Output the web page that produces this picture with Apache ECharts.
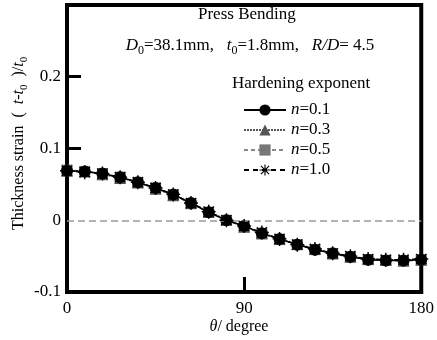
<!DOCTYPE html>
<html>
<head>
<meta charset="utf-8">
<script src="https://cdn.jsdelivr.net/npm/echarts@6/dist/echarts.min.js"></script>
<style>
    html, body { margin: 0; padding: 0; background: #fff; }
    #main { width: 437px; height: 340px; }
</style>
</head>
<body>
<div id="main"></div>
<script>
// data
let xData = [0, 9, 18, 27, 36, 45, 54, 63, 72, 81, 90, 99, 108, 117, 126, 135, 144, 153, 162, 171, 180]
let n01 = [0.069, 0.068, 0.065, 0.060, 0.053, 0.045, 0.036, 0.024, 0.011, 0.000, -0.008, -0.018, -0.026, -0.034, -0.041, -0.046, -0.051, -0.055, -0.056, -0.056, -0.055]
let n03 = [0.069, 0.068, 0.064, 0.059, 0.053, 0.044, 0.035, 0.024, 0.012, 0.001, -0.009, -0.018, -0.026, -0.033, -0.040, -0.046, -0.051, -0.054, -0.055, -0.056, -0.055]
let n05 = [0.070, 0.068, 0.065, 0.060, 0.052, 0.045, 0.035, 0.023, 0.011, 0.000, -0.009, -0.019, -0.027, -0.034, -0.041, -0.047, -0.051, -0.055, -0.056, -0.057, -0.055]
let n10 = [0.069, 0.067, 0.065, 0.060, 0.053, 0.045, 0.036, 0.024, 0.012, 0.000, -0.008, -0.017, -0.026, -0.034, -0.040, -0.046, -0.050, -0.054, -0.055, -0.055, -0.054]
let names = ['n=0.1', 'n=0.3', 'n=0.5', 'n=1.0']
let yLabels = [-0.1, 0, 0.1, 0.2]
let xLabels = [0, 90, 180]

let font = "'Liberation Serif', 'Times New Roman', serif"
let star = 'path://M0,9L20,9L20,11L0,11Z M9,0L11,0L11,20L9,20Z M2,3.5L3.5,2L18,16.5L16.5,18Z M16.5,2L18,3.5L3.5,18L2,16.5Z'

let toPairs = (arr) => arr.map((v, i) => [xData[i], v])

let myChart = echarts.init(document.getElementById('main'))

let richText = {
    i: { fontFamily: font, fontSize: 17, fontStyle: 'italic', fill: '#000' },
    s: { fontFamily: font, fontSize: 12, fill: '#000', verticalAlign: 'bottom', lineHeight: 12 },
    i16: { fontFamily: font, fontSize: 16, fontStyle: 'italic', fill: '#000' },
    s16: { fontFamily: font, fontSize: 11, fill: '#000', verticalAlign: 'bottom', lineHeight: 11 }
}

let option = {
    animation: false,
    grid: {
        left: 67,
        right: 15,
        top: 5,
        bottom: 48,
        show: true,
        borderColor: '#000',
        borderWidth: 4
    },
    legend: {
        orient: 'vertical',
        left: 238,
        top: 96,
        itemWidth: 42,
        itemHeight: 14,
        itemGap: 2,
        data: names,
        formatter: function (name) {
            return '{i|n}' + name.slice(1)
        },
        textStyle: {
            fontFamily: font,
            fontSize: 17,
            color: '#000',
            lineHeight: 18,
            rich: {
                i: { fontFamily: font, fontSize: 17, fontStyle: 'italic', color: '#000' }
            }
        }
    },
    xAxis: {
        type: 'value',
        min: 0,
        max: 180,
        interval: 90,
        axisLine: { onZero: false, lineStyle: { color: '#000', width: 4 } },
        axisTick: { inside: true, length: 15, customValues: [90], lineStyle: { color: '#000', width: 3 } },
        axisLabel: { customValues: xLabels, margin: 8, fontFamily: font, fontSize: 17, color: '#000' },
        splitLine: { show: false }
    },
    yAxis: {
        type: 'value',
        min: -0.1,
        max: 0.3,
        interval: 0.1,
        axisLine: { show: true, onZero: false, lineStyle: { color: '#000', width: 4 } },
        axisTick: { show: true, inside: true, length: 14, customValues: [0.1, 0.2], lineStyle: { color: '#000', width: 3 } },
        axisLabel: { customValues: yLabels, margin: 6, fontFamily: font, fontSize: 17, color: '#000' },
        splitLine: { show: false }
    },
    graphic: [
        {
            type: 'text', left: 198, top: 6, z: 100,
            style: { text: 'Press Bending', font: '17px ' + font, fill: '#000' }
        },
        {
            type: 'text', x: 250, y: 46, z: 100,
            style: {
                text: '{i|D}{s|0}=38.1mm,   {i|t}{s|0}=1.8mm,   {i|R/D}= 4.5',
                font: '17px ' + font, fill: '#000', rich: richText, lineHeight: 22,
                align: 'center', verticalAlign: 'middle'
            }
        },
        {
            type: 'text', left: 232, top: 75, z: 100,
            style: { text: 'Hardening exponent', font: '17px ' + font, fill: '#000' }
        },
        {
            type: 'text', x: 19, y: 230, rotation: Math.PI / 2, z: 100,
            style: {
                text: 'Thickness strain  (  {i16|t}-{i16|t}{s16|0}  )/{i16|t}{s16|0}',
                font: '16px ' + font, fill: '#000', rich: richText, lineHeight: 21,
                align: 'left', verticalAlign: 'middle'
            }
        },
        {
            type: 'text', x: 239, y: 327, z: 100,
            style: {
                text: '{i16|θ}/ degree',
                font: '16px ' + font, fill: '#000', rich: richText,
                align: 'center', verticalAlign: 'middle'
            }
        }
    ],
    series: [
        {
            name: 'n=0.1',
            type: 'line',
            data: toPairs(n01),
            symbol: 'circle',
            symbolSize: 12,
            z: 4,
            itemStyle: { color: '#000' },
            lineStyle: { color: '#000', width: 1.5 },
            markLine: {
                silent: true,
                symbol: 'none',
                label: { show: false },
                lineStyle: { color: '#999', width: 1.5, type: [7, 4] },
                data: [{ yAxis: 0 }]
            }
        },
        {
            name: 'n=0.3',
            type: 'line',
            data: toPairs(n03),
            symbol: 'triangle',
            symbolSize: 12,
            z: 3,
            itemStyle: { color: '#555' },
            lineStyle: { color: '#555', width: 1.5, type: [2, 1] }
        },
        {
            name: 'n=0.5',
            type: 'line',
            data: toPairs(n05),
            symbol: 'rect',
            symbolSize: 11,
            z: 2,
            itemStyle: { color: '#777' },
            lineStyle: { color: '#888', width: 1.5, type: [4, 3] }
        },
        {
            name: 'n=1.0',
            type: 'line',
            data: toPairs(n10),
            symbol: star,
            symbolSize: 14,
            z: 5,
            itemStyle: { color: '#000' },
            lineStyle: { color: '#000', width: 1.5, type: [5, 4] }
        }
    ]
}

myChart.setOption(option)
</script>
</body>
</html>
